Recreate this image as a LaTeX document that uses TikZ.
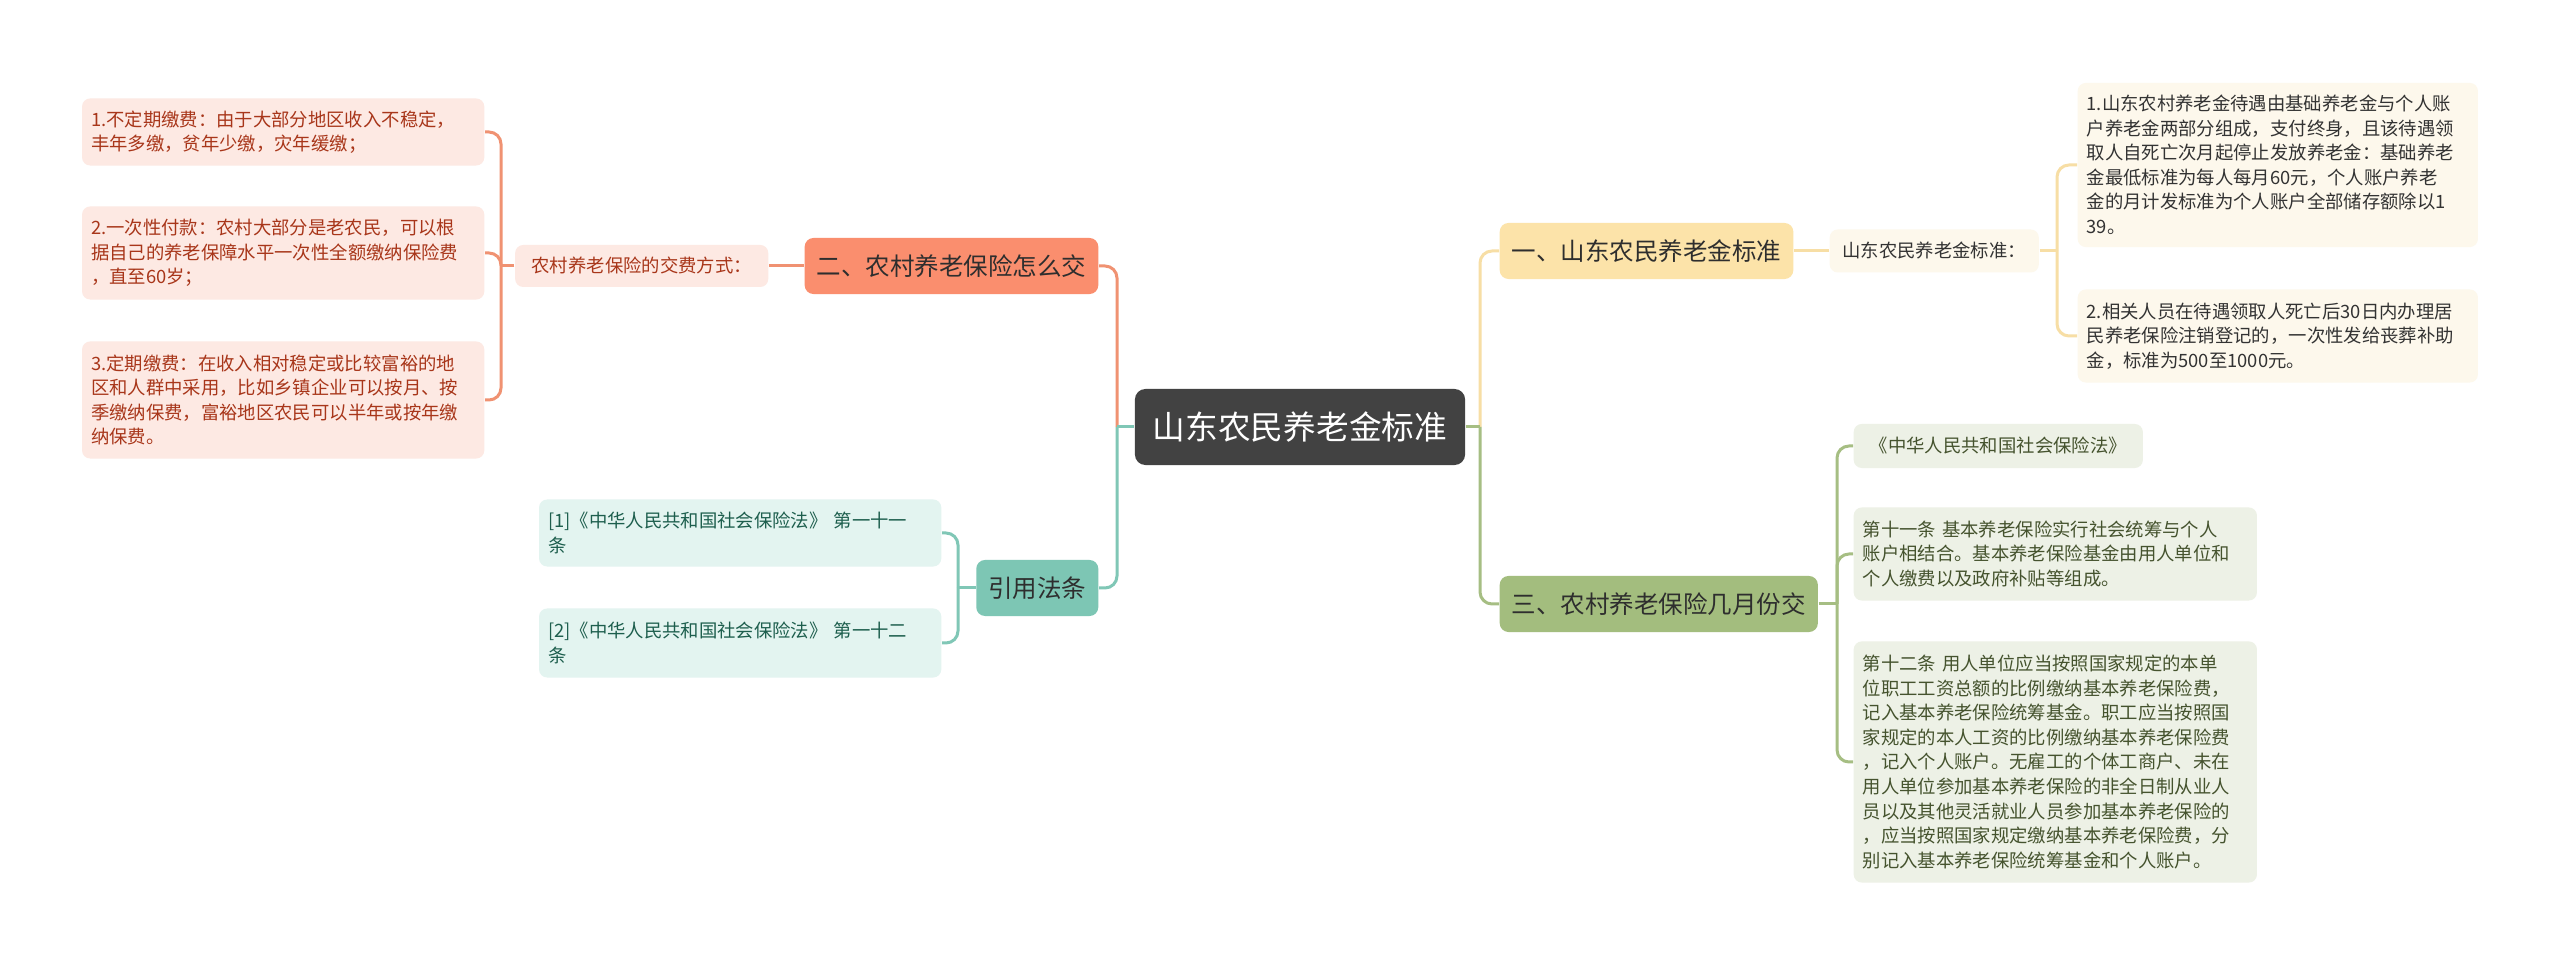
\documentclass[tikz,border=0pt]{standalone}
\usepackage{fontspec}
\setmainfont{Noto Sans CJK SC}
\usetikzlibrary{positioning}
\definecolor{rootgray}{HTML}{424242}
\definecolor{maintext}{HTML}{2E2E2E}
\definecolor{orgline}{HTML}{F09272}
\definecolor{orgfill}{HTML}{FA8E6E}
\definecolor{orgleaf}{HTML}{FDE9E3}
\definecolor{orgtext}{HTML}{A8361A}
\definecolor{tealline}{HTML}{80C7B6}
\definecolor{tealfill}{HTML}{7DC6B4}
\definecolor{tealleaf}{HTML}{E3F4F0}
\definecolor{tealtext}{HTML}{1D5E4D}
\definecolor{yelline}{HTML}{F7DEA5}
\definecolor{yelfill}{HTML}{FCE3A9}
\definecolor{yelleaf}{HTML}{FDF8EC}
\definecolor{yeltext}{HTML}{333333}
\definecolor{grnline}{HTML}{A6BE83}
\definecolor{grnfill}{HTML}{A3BD7E}
\definecolor{grnleaf}{HTML}{EDF1E6}
\definecolor{grntext}{HTML}{45532E}

\begin{document}
\begin{tikzpicture}[x=0.01cm,y=-0.01cm,
  rootbox/.style={rectangle,rounded corners=3pt,fill=rootgray,text=white,
               font=\fontsize{9.3pt}{11pt}\selectfont,minimum width=3.3cm,minimum height=0.76cm,inner sep=0pt},
  branch/.style={rectangle,rounded corners=2.5pt,text=maintext,font=\fontsize{6.97pt}{8.5pt}\selectfont,
               minimum height=0.56cm,inner xsep=0.12cm,inner ysep=0pt},
  leaf/.style={rectangle,rounded corners=2.3pt,font=\fontsize{5.22pt}{6.97pt}\selectfont,
               align=left,inner xsep=0.09cm,inner ysep=0pt},
  link/.style={line width=0.85pt,rounded corners=0.12cm}]
\useasboundingbox[fill=white] (0,0) rectangle (2560,965);

\node[rootbox] (root) at (1300,427) {山东农民养老金标准};
\coordinate (tl) at (1117,427);
\coordinate (tr) at (1480,427);

\node[branch,fill=yelfill,anchor=west]  (b1) at (1499,251) {一、山东农民养老金标准};
\node[branch,fill=orgfill,anchor=east]  (b2) at (1099,266) {二、农村养老保险怎么交};
\node[branch,fill=grnfill,anchor=west]  (b3) at (1499,604) {三、农村养老保险几月份交};
\node[branch,fill=tealfill,anchor=east] (b4) at (1099,588) {引用法条};

\node[leaf,fill=yelleaf,text=yeltext,anchor=west,minimum width=2.09cm,minimum height=0.43cm] (s1) at (1829,251) {山东农民养老金标准：};
\node[leaf,fill=orgleaf,text=orgtext,anchor=east,minimum width=2.53cm,minimum height=0.42cm] (s2) at (769,266) {农村养老保险的交费方式：};
\coordinate (j1) at (2057,251);
\coordinate (j2) at (501,266);
\coordinate (j3) at (1837,604);
\coordinate (j4) at (958,588);

\node[leaf,fill=yelleaf,text=yeltext,anchor=west,text width=3.82cm,minimum height=1.64cm] (y1) at (2077,165)
  {1.山东农村养老金待遇由基础养老金与个人账\\户养老金两部分组成，支付终身，且该待遇领\\取人自死亡次月起停止发放养老金：基础养老\\金最低标准为每人每月60元，个人账户养老\\金的月计发标准为个人账户全部储存额除以1\\39。};
\node[leaf,fill=yelleaf,text=yeltext,anchor=west,text width=3.82cm,minimum height=0.93cm] (y2) at (2077,336)
  {2.相关人员在待遇领取人死亡后30日内办理居\\民养老保险注销登记的，一次性发给丧葬补助\\金，标准为500至1000元。};

\node[leaf,fill=orgleaf,text=orgtext,anchor=east,text width=3.84cm,minimum height=0.67cm] (o1) at (485,132)
  {1.不定期缴费：由于大部分地区收入不稳定，\\丰年多缴，贫年少缴，灾年缓缴；};
\node[leaf,fill=orgleaf,text=orgtext,anchor=east,text width=3.84cm,minimum height=0.93cm] (o2) at (485,253)
  {2.一次性付款：农村大部分是老农民，可以根\\据自己的养老保障水平一次性全额缴纳保险费\\，直至60岁；};
\node[leaf,fill=orgleaf,text=orgtext,anchor=east,text width=3.84cm,minimum height=1.17cm] (o3) at (485,400)
  {3.定期缴费：在收入相对稳定或比较富裕的地\\区和人群中采用，比如乡镇企业可以按月、按\\季缴纳保费，富裕地区农民可以半年或按年缴\\纳保费。};

\node[leaf,fill=grnleaf,text=grntext,anchor=west,minimum width=2.89cm,minimum height=0.44cm] (g1) at (1853,446)
  {《中华人民共和国社会保险法》};
\node[leaf,fill=grnleaf,text=grntext,anchor=west,text width=3.85cm,minimum height=0.93cm] (g2) at (1853,554)
  {第十一条~基本养老保险实行社会统筹与个人\\账户相结合。基本养老保险基金由用人单位和\\个人缴费以及政府补贴等组成。};
\node[leaf,fill=grnleaf,text=grntext,anchor=west,text width=3.85cm,minimum height=2.41cm] (g3) at (1853,762)
  {第十二条~用人单位应当按照国家规定的本单\\位职工工资总额的比例缴纳基本养老保险费，\\记入基本养老保险统筹基金。职工应当按照国\\家规定的本人工资的比例缴纳基本养老保险费\\，记入个人账户。无雇工的个体工商户、未在\\用人单位参加基本养老保险的非全日制从业人\\员以及其他灵活就业人员参加基本养老保险的\\，应当按照国家规定缴纳基本养老保险费，分\\别记入基本养老保险统筹基金和个人账户。};

\node[leaf,fill=tealleaf,text=tealtext,anchor=east,text width=3.84cm,minimum height=0.67cm] (t1) at (942,533)
  {[1]《中华人民共和国社会保险法》~第一十一\\条};
\node[leaf,fill=tealleaf,text=tealtext,anchor=east,text width=3.84cm,minimum height=0.69cm] (t2) at (942,643)
  {[2]《中华人民共和国社会保险法》~第一十二\\条};

\draw[link,orgline] (tl) |- (b2.east);
\draw[link,tealline] (tl) |- (b4.east);
\draw[link,tealline] (root.west) -- (tl);
\draw[link,yelline] (tr) |- (b1.west);
\draw[link,grnline] (tr) |- (b3.west);
\draw[link,grnline] (root.east) -- (tr);

\draw[link,yelline] (b1.east) -- (s1.west);
\draw[link,yelline] (s1.east) -- (j1);
\foreach \n in {y1,y2} \draw[link,yelline] (j1) |- (\n.west);

\draw[link,orgline] (b2.west) -- (s2.east);
\draw[link,orgline] (s2.west) -- (j2);
\foreach \n in {o1,o2,o3} \draw[link,orgline] (j2) |- (\n.east);

\draw[link,grnline] (b3.east) -- (j3);
\foreach \n in {g1,g2,g3} \draw[link,grnline] (j3) |- (\n.west);

\draw[link,tealline] (b4.west) -- (j4);
\foreach \n in {t1,t2} \draw[link,tealline] (j4) |- (\n.east);
\end{tikzpicture}
\end{document}
